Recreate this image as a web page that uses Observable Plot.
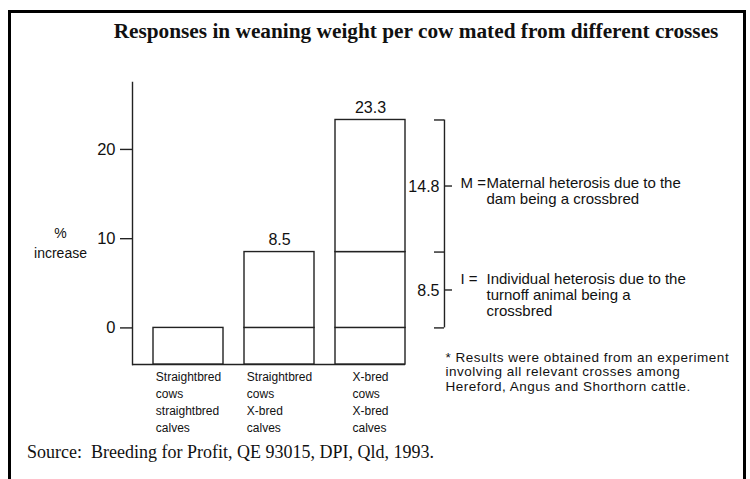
<!DOCTYPE html>
<html>
<head>
<meta charset="utf-8">
<script src="https://cdn.jsdelivr.net/npm/d3@7"></script>
<script src="https://cdn.jsdelivr.net/npm/@observablehq/plot@0.6"></script>
<style>
  html, body { margin: 0; padding: 0; background: #fff; }
  #wrap { position: relative; width: 750px; height: 479px; overflow: hidden; background: #fff; }
  #border { position: absolute; left: 8px; top: 10px; width: 738px; height: 520px; border: 3px solid #000; box-sizing: border-box; }
  #title { position: absolute; left: 0; width: 832px; top: 18px; text-align: center; font-family: "Liberation Serif", "Times New Roman", serif; font-weight: bold; font-size: 21.3px; line-height: 26px; color: #111; white-space: nowrap; }
  #source { position: absolute; left: 27px; top: 441px; font-family: "Liberation Serif", "Times New Roman", serif; font-size: 18px; line-height: 22px; color: #111; white-space: pre; }
  #chart { position: absolute; left: 0; top: 0; }
</style>
</head>
<body>
<div id="wrap">
  <div id="border"></div>
  <div id="title">Responses in weaning weight per cow mated from different crosses</div>
  <div id="source">Source:  Breeding for Profit, QE 93015, DPI, Qld, 1993.</div>
  <div id="chart"></div>
</div>
<script>
// ---- data ----
const categories = [
  "Straightbred\ncows\nstraightbred\ncalves",
  "Straightbred\ncows\nX-bred\ncalves",
  "X-bred\ncows\nX-bred\ncalves"
];
const totalIncrease = [0, 8.5, 23.3];
const individualHeterosis = [0, 8.5, 8.5];
const maternalHeterosis = [0, 0, 14.8];
const yTicks = [0, 10, 20];
const yLabel = "%\nincrease";
const effectNames = ["I =", "M ="];
const effectValues = [8.5, 14.8];
const effectDescriptions = [
  "Individual heterosis due to the\nturnoff animal being a\ncrossbred",
  "Maternal heterosis due to the\ndam being a crossbred"
];
const footnote = "* Results were obtained from an experiment\ninvolving all relevant crosses among\nHereford, Angus and Shorthorn cattle.";
const yDomain = [-4.1, 27.5];

// ---- derived tables ----
const yFloor = yDomain[0];
const segments = [];
categories.forEach((c, i) => {
  segments.push({cat: c, y1: yFloor, y2: 0});
  if (individualHeterosis[i] > 0) segments.push({cat: c, y1: 0, y2: individualHeterosis[i]});
  if (maternalHeterosis[i] > 0) segments.push({cat: c, y1: individualHeterosis[i], y2: individualHeterosis[i] + maternalHeterosis[i]});
});
const totals = categories.map((c, i) => ({cat: c, v: totalIncrease[i]})).filter(d => d.v > 0);

// bracket for the crossbred-cow bar (last category)
const last = categories.length - 1;
const bounds = [0, individualHeterosis[last], individualHeterosis[last] + maternalHeterosis[last]];
const effects = effectNames.map((n, i) => {
  const nLines = effectDescriptions[i].split("\n").length;
  return {
    name: n + "\n".repeat(nLines - 1),
    label: String(effectValues[i]),
    desc: effectDescriptions[i],
    mid: (bounds[i] + bounds[i + 1]) / 2
  };
});

// layout constants
const W = 750, H = 479;
const mL = 132, mR = 324, mT = 82, mB = 115;
const FW = W - mL - mR;
const pad = 0.23;
const step = FW / (categories.length - pad + 2 * pad);
const lastCenter = mL + pad * step + last * step + step * (1 - pad) / 2;
const bracketX = 444;
const font = "Liberation Sans, Arial, Helvetica, sans-serif";

const ctx = document.createElement("canvas").getContext("2d");
ctx.font = "12px 'Liberation Sans'";
const blockWidth = s => Math.max(...s.split("\n").map(l => ctx.measureText(l).width));

const catLabelMarks = categories.map(c =>
  Plot.text([c], {x: d => d, text: d => d, frameAnchor: "bottom", textAnchor: "start",
    lineAnchor: "top", dx: -blockWidth(c) / 2, dy: 4, fontSize: 12, lineHeight: 1.42, fill: "#111"})
);

const chart = Plot.plot({
  width: W, height: H,
  marginLeft: mL, marginRight: mR, marginTop: mT, marginBottom: mB,
  style: {fontFamily: font, color: "#111", background: "transparent", overflow: "visible"},
  x: {domain: categories, padding: pad, axis: null},
  y: {domain: yDomain, axis: null},
  marks: [
    Plot.axisY(yTicks, {tickSize: 12, tickPadding: 5, fontSize: 16.5, label: null, stroke: "#222", strokeWidth: 1.4, fill: "#111"}),
    Plot.frame({anchor: "left", stroke: "#222", strokeWidth: 1.4}),
    Plot.ruleY([yFloor], {insetRight: pad * step, stroke: "#222", strokeWidth: 1.4}),
    Plot.barY(segments, {x: "cat", y1: "y1", y2: "y2", fill: "white", stroke: "#222", strokeWidth: 1.4}),
    Plot.text(totals, {x: "cat", y: "v", text: d => String(d.v), dy: -12, fontSize: 16, fill: "#111"}),
    // bracket
    Plot.ruleX([{cat: categories[last], a: bounds[0], b: bounds[2]}], {x: "cat", y1: "a", y2: "b", dx: bracketX - lastCenter, stroke: "#222", strokeWidth: 1.4}),
    Plot.ruleY(bounds, {dx: bracketX - (mL + FW), insetLeft: FW - 10, stroke: "#222", strokeWidth: 1.4}),
    Plot.ruleY(effects, {y: "mid", dx: bracketX + 8 - (mL + FW), insetLeft: FW - 8, stroke: "#222", strokeWidth: 1.4}),
    Plot.text(effects, {y: "mid", text: "label", frameAnchor: "right", textAnchor: "end", dx: 13, dy: 1, fontSize: 16, fill: "#111"}),
    Plot.text(effects, {y: "mid", text: "name", frameAnchor: "right", textAnchor: "start", dx: 460 - (mL + FW), dy: 5, lineAnchor: "middle", fontSize: 15, lineHeight: 1.07, fill: "#111"}),
    Plot.text(effects, {y: "mid", text: "desc", frameAnchor: "right", textAnchor: "start", dx: 486 - (mL + FW), dy: 5, lineAnchor: "middle", fontSize: 15, lineHeight: 1.07, fill: "#111"}),
    Plot.text([footnote], {frameAnchor: "bottom-right", textAnchor: "start", lineAnchor: "middle", dx: 445 - (mL + FW), dy: 7, fontSize: 13.5, lineHeight: 1.08, fill: "#111"}),
    Plot.text([yLabel], {frameAnchor: "left", textAnchor: "middle", dx: 60 - mL, dy: 18, fontSize: 14, lineHeight: 1.43, fill: "#111"}),
    ...catLabelMarks
  ]
});
// widen the footnote's letter spacing to match the scanned original
d3.select(chart).selectAll("text")
  .filter(function () { return this.textContent.startsWith(footnote.split("\n")[0]); })
  .style("letter-spacing", "0.5px");
document.getElementById("chart").appendChild(chart);
</script>
</body>
</html>
